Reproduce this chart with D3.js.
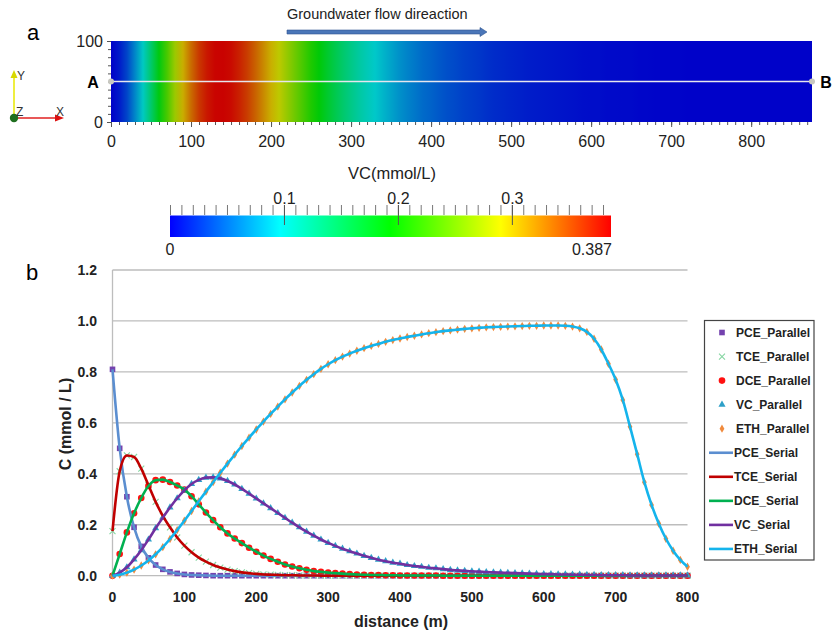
<!DOCTYPE html>
<html>
<head>
<meta charset="utf-8">
<script src="https://cdn.jsdelivr.net/npm/d3@7"></script>
<style>
body { margin: 0; background: #fff; }
svg { display: block; font-family: "Liberation Sans", Arial, sans-serif; }
</style>
</head>
<body>
<div id="chart"></div>
<script>

// distance along A-B (m)
var distance = [0,10,20,30,40,50,60,70,80,90,100,110,120,130,140,150,160,170,180,190,
    200,210,220,230,240,250,260,270,280,290,300,310,320,330,340,350,360,370,380,390,
    400,410,420,430,440,450,460,470,480,490,500,510,520,530,540,550,560,570,580,590,
    600,610,620,630,640,650,660,670,680,690,700,710,720,730,740,750,760,770,780,790,800];

var pce = [0.81,0.50,0.31,0.19,0.115,0.07,0.042,0.025,0.015,0.009,0.005,0.003,0.002,0.001,0,0,0,0,0,0,
    0,0,0,0,0,0,0,0,0,0,0,0,0,0,0,0,0,0,0,0,
    0,0,0,0,0,0,0,0,0,0,0,0,0,0,0,0,0,0,0,0,
    0,0,0,0,0,0,0,0,0,0,0,0,0,0,0,0,0,0,0,0,0];

var tce = [0.175,0.41,0.472,0.466,0.42,0.355,0.29,0.235,0.19,0.15,0.118,0.092,0.071,0.055,0.042,0.032,0.024,0.018,0.013,0.01,
    0.007,0.005,0.004,0.003,0.002,0.002,0.001,0.001,0.001,0,0,0,0,0,0,0,0,0,0,0,
    0,0,0,0,0,0,0,0,0,0,0,0,0,0,0,0,0,0,0,0,
    0,0,0,0,0,0,0,0,0,0,0,0,0,0,0,0,0,0,0,0,0];

var dce = [0,0.085,0.17,0.245,0.305,0.352,0.375,0.377,0.368,0.354,0.338,0.312,0.28,0.248,0.218,0.19,0.166,0.146,0.128,0.11,
    0.094,0.079,0.066,0.055,0.044,0.036,0.029,0.023,0.018,0.015,0.012,0.01,0.008,0.006,0.005,0.004,0.003,0.003,0.002,0.002,
    0.001,0.001,0.001,0.001,0.001,0.001,0,0,0,0,0,0,0,0,0,0,0,0,0,0,
    0,0,0,0,0,0,0,0,0,0,0,0,0,0,0,0,0,0,0,0,0];

var vc = [0,0.012,0.033,0.064,0.1,0.142,0.186,0.228,0.268,0.304,0.335,0.36,0.376,0.385,0.386,0.382,0.372,0.358,0.341,0.322,
    0.303,0.284,0.265,0.246,0.227,0.208,0.19,0.173,0.157,0.142,0.129,0.117,0.106,0.096,0.087,0.078,0.07,0.063,0.057,0.051,
    0.047,0.042,0.038,0.035,0.031,0.029,0.026,0.023,0.021,0.019,0.017,0.016,0.014,0.013,0.012,0.011,0.01,0.009,0.008,0.007,
    0.006,0.006,0.005,0.005,0.004,0.004,0.003,0.003,0.002,0.002,0.002,0.002,0.001,0.001,0.001,0.001,0.001,0.001,0.001,0.001,0.001];

var eth = [0,0.004,0.012,0.024,0.04,0.06,0.084,0.112,0.144,0.179,0.216,0.254,0.292,0.33,0.367,0.404,0.44,0.475,0.509,0.542,
    0.574,0.605,0.635,0.664,0.692,0.719,0.745,0.769,0.791,0.812,0.83,0.846,0.86,0.872,0.883,0.893,0.902,0.91,0.918,0.925,
    0.931,0.937,0.942,0.947,0.952,0.956,0.96,0.963,0.966,0.969,0.971,0.973,0.975,0.976,0.977,0.978,0.979,0.98,0.981,0.981,
    0.982,0.982,0.982,0.981,0.978,0.971,0.957,0.93,0.888,0.832,0.77,0.69,0.585,0.477,0.367,0.278,0.205,0.145,0.098,0.062,0.035];

var yTicks = [0, 0.2, 0.4, 0.6, 0.8, 1.0, 1.2];
var xTicks = [0, 100, 200, 300, 400, 500, 600, 700, 800];
var fieldTicks = [0, 100, 200, 300, 400, 500, 600, 700, 800];
var barTicks = [0.1, 0.2, 0.3];
var vcMax = 0.387;

var series = [
    { name: "PCE", values: pce, line: "#5B8ED0", marker: "square", mcol: "#7442AE" },
    { name: "TCE", values: tce, line: "#C00000", marker: "cross", mcol: "#86D6A2" },
    { name: "DCE", values: dce, line: "#00B050", marker: "circle", mcol: "#FF1010" },
    { name: "VC", values: vc, line: "#7030A0", marker: "triangle", mcol: "#2EA0C8" },
    { name: "ETH", values: eth, line: "#14B4EC", marker: "diamond", mcol: "#F08A3C" }
];

var svg = d3.select("#chart")
    .append("svg")
    .attr("width", 832)
    .attr("height", 635);

var defs = svg.append("defs");

// ---------- panel a ----------
var jet = d3.scaleLinear()
    .domain([0, vcMax * 0.25, vcMax * 0.5, vcMax * 0.75, vcMax])
    .range(["#0000ff", "#00ffff", "#00ff00", "#ffff00", "#ff0000"]);

function shade(v) {
    var c = d3.rgb(jet(v));
    return d3.rgb(c.r * 0.79, c.g * 0.79, c.b * 0.79).toString();
}

var xa = d3.scaleLinear().domain([0, 876]).range([111, 812]);
var ya = d3.scaleLinear().domain([0, 100]).range([122, 41]);

var field = defs.append("linearGradient")
    .attr("id", "field")
    .attr("gradientUnits", "userSpaceOnUse")
    .attr("x1", xa(0)).attr("x2", xa(876))
    .attr("y1", 0).attr("y2", 0);
field.selectAll("stop")
    .data(distance)
    .enter()
    .append("stop")
    .attr("offset", function (d) { return (xa(d) - xa(0)) / (xa(876) - xa(0)); })
    .attr("stop-color", function (d, i) { return shade(vc[i]); });

svg.append("rect")
    .attr("x", xa(0)).attr("y", ya(100))
    .attr("width", xa(876) - xa(0))
    .attr("height", ya(0) - ya(100))
    .attr("fill", "url(#field)");

// axes of the field
var axA = svg.append("g").attr("transform", "translate(0," + ya(0) + ")")
    .call(d3.axisBottom(xa).tickValues(fieldTicks).tickSize(5).tickPadding(9));
svg.append("g").attr("transform", "translate(0," + ya(0) + ")")
    .call(d3.axisBottom(xa).tickValues(d3.range(0, 871, 10)).tickSize(3).tickFormat(""));
var ayA = svg.append("g").attr("transform", "translate(" + xa(0) + ",0)")
    .call(d3.axisLeft(ya).tickValues([0, 100]).tickSize(4).tickPadding(4));
svg.append("g").attr("transform", "translate(" + xa(0) + ",0)")
    .call(d3.axisLeft(ya).tickValues(d3.range(0, 101, 10)).tickSize(3).tickFormat(""));

svg.selectAll(".domain").remove();
svg.selectAll(".tick line").attr("stroke", "#555");
axA.selectAll("text").attr("font-size", 16).attr("fill", "#222");
ayA.selectAll("text").attr("font-size", 16).attr("fill", "#222");

// A-B line
svg.append("line")
    .attr("x1", xa(0)).attr("x2", xa(876))
    .attr("y1", ya(50)).attr("y2", ya(50))
    .attr("stroke", "#e6e6ee").attr("stroke-width", 1.5);
svg.selectAll(".abdot")
    .data([0, 876])
    .enter()
    .append("circle")
    .attr("cx", function (d) { return xa(d); })
    .attr("cy", ya(50))
    .attr("r", 3)
    .attr("fill", "#c8c8c0");
svg.append("text").attr("x", 93).attr("y", ya(50) + 6).attr("text-anchor", "middle")
    .attr("font-size", 16).attr("font-weight", "bold").text("A");
svg.append("text").attr("x", 826).attr("y", ya(50) + 6).attr("text-anchor", "middle")
    .attr("font-size", 16).attr("font-weight", "bold").text("B");

// panel labels
svg.append("text").attr("x", 33).attr("y", 40).attr("text-anchor", "middle")
    .attr("font-size", 22).text("a");
svg.append("text").attr("x", 32).attr("y", 280).attr("text-anchor", "middle")
    .attr("font-size", 22).text("b");

// flow direction arrow
svg.append("text").attr("x", 287).attr("y", 19)
    .attr("font-size", 14.5).attr("fill", "#222").text("Groundwater flow direaction");
svg.append("path")
    .attr("d", "M287,30 L480,30 L480,27.5 L487,32 L480,36.5 L480,34 L287,34 Z")
    .attr("fill", "#4A76B8").attr("stroke", "#2F5590").attr("stroke-width", 0.6);

// axis triad
var triad = svg.append("g");
triad.append("line").attr("x1", 14).attr("y1", 118).attr("x2", 14).attr("y2", 76)
    .attr("stroke", "#e8e800").attr("stroke-width", 1.5);
triad.append("path").attr("d", "M14,70 L10.5,78 L17.5,78 Z").attr("fill", "#d8d800");
triad.append("line").attr("x1", 14).attr("y1", 118).attr("x2", 56).attr("y2", 118)
    .attr("stroke", "#e02020").attr("stroke-width", 1.5);
triad.append("path").attr("d", "M64,118 L55,114.5 L55,121.5 Z").attr("fill", "#dd1010");
triad.append("circle").attr("cx", 14).attr("cy", 118).attr("r", 4.2).attr("fill", "#1f6f1f");
triad.append("text").attr("x", 17).attr("y", 80).attr("font-size", 12).attr("fill", "#333").text("Y");
triad.append("text").attr("x", 16).attr("y", 116).attr("font-size", 12).attr("fill", "#333").text("Z");
triad.append("text").attr("x", 56).attr("y", 116).attr("font-size", 12).attr("fill", "#333").text("X");

// ---------- colour bar ----------
var xc = d3.scaleLinear().domain([0, vcMax]).range([170, 611]);
var cbar = defs.append("linearGradient").attr("id", "cbar");
cbar.selectAll("stop")
    .data(jet.domain())
    .enter()
    .append("stop")
    .attr("offset", function (d) { return d / vcMax; })
    .attr("stop-color", function (d) { return jet(d); });

svg.append("rect")
    .attr("x", xc(0)).attr("y", 215.5)
    .attr("width", xc(vcMax) - xc(0)).attr("height", 21.5)
    .attr("fill", "url(#cbar)");

var cMinor = svg.append("g").attr("transform", "translate(0,215)")
    .call(d3.axisTop(xc).tickValues(d3.range(0, 0.385, 0.01)).tickSize(10).tickFormat(""));
var cMajor = svg.append("g").attr("transform", "translate(0,225)")
    .call(d3.axisTop(xc).tickValues(barTicks).tickSize(20).tickPadding(4).tickFormat(d3.format(".1f")));
cMinor.select(".domain").remove();
cMajor.select(".domain").remove();
cMinor.selectAll(".tick line").attr("stroke", "#777");
cMajor.selectAll(".tick line").attr("stroke", "#555");
cMajor.selectAll("text").attr("font-size", 16).attr("fill", "#222").attr("y", -21);

svg.append("text").attr("x", 392).attr("y", 179).attr("text-anchor", "middle")
    .attr("font-size", 16.5).attr("fill", "#222").text("VC(mmol/L)");
svg.append("text").attr("x", xc(0)).attr("y", 255).attr("text-anchor", "middle")
    .attr("font-size", 16).attr("fill", "#222").text("0");
svg.append("text").attr("x", xc(vcMax) + 1).attr("y", 255).attr("text-anchor", "end")
    .attr("font-size", 16).attr("fill", "#222").text(vcMax);

// ---------- panel b ----------
var xb = d3.scaleLinear().domain([0, 800]).range([112.5, 687.5]);
var yb = d3.scaleLinear().domain([0, 1.2]).range([575.7, 270]);

svg.append("g").selectAll("line")
    .data(yTicks)
    .enter()
    .append("line")
    .attr("x1", xb(0)).attr("x2", xb(800))
    .attr("y1", function (d) { return yb(d); })
    .attr("y2", function (d) { return yb(d); })
    .attr("stroke", "#bdbdbd").attr("stroke-width", 1.3);
svg.append("line")
    .attr("x1", xb(0)).attr("x2", xb(0))
    .attr("y1", yb(1.2)).attr("y2", yb(0))
    .attr("stroke", "#bdbdbd").attr("stroke-width", 1.3);

svg.append("g").selectAll("text")
    .data(yTicks)
    .enter()
    .append("text")
    .attr("x", 97)
    .attr("y", function (d) { return yb(d); })
    .attr("dy", "0.36em")
    .attr("text-anchor", "end")
    .attr("font-size", 14).attr("font-weight", "bold").attr("fill", "#222")
    .text(d3.format(".1f"));

svg.append("g").selectAll("text")
    .data(xTicks)
    .enter()
    .append("text")
    .attr("x", function (d) { return xb(d); })
    .attr("y", 602)
    .attr("text-anchor", "middle")
    .attr("font-size", 14).attr("font-weight", "bold").attr("fill", "#222")
    .text(function (d) { return d; });

svg.append("text").attr("x", 401).attr("y", 627).attr("text-anchor", "middle")
    .attr("font-size", 16).attr("font-weight", "bold").attr("fill", "#222").text("distance (m)");
svg.append("text")
    .attr("transform", "translate(71,424) rotate(-90)")
    .attr("text-anchor", "middle")
    .attr("font-size", 16).attr("font-weight", "bold").attr("fill", "#222").text("C (mmol / L)");

function drawMarker(g, type, col) {
    if (type === "square") {
        g.append("rect").attr("x", -2.8).attr("y", -2.8).attr("width", 5.6).attr("height", 5.6).attr("fill", col);
    } else if (type === "cross") {
        g.append("path").attr("d", "M-3,-3L3,3M-3,3L3,-3")
            .attr("stroke", col).attr("stroke-width", 1.1).attr("fill", "none");
    } else if (type === "circle") {
        g.append("circle").attr("r", 3.3).attr("fill", col);
    } else if (type === "triangle") {
        g.append("path").attr("d", d3.symbol(d3.symbolTriangle, 22)()).attr("fill", col);
    } else {
        g.append("path").attr("d", d3.symbol(d3.symbolDiamond, 20)()).attr("fill", col);
    }
}

// Parallel results as markers
series.forEach(function (s) {
    svg.append("g").selectAll("g")
        .data(s.values)
        .enter()
        .append("g")
        .attr("transform", function (d, i) { return "translate(" + xb(distance[i]) + "," + yb(d) + ")"; })
        .each(function () { drawMarker(d3.select(this), s.marker, s.mcol); });
});

// Serial results as lines
var line = d3.line()
    .x(function (d, i) { return xb(distance[i]); })
    .y(function (d) { return yb(d); })
    .curve(d3.curveMonotoneX);

series.forEach(function (s) {
    svg.append("path")
        .datum(s.values)
        .attr("d", line)
        .attr("fill", "none")
        .attr("stroke", s.line)
        .attr("stroke-width", 2.6);
});

// legend
var legend = svg.append("g");
legend.append("rect")
    .attr("x", 704.5).attr("y", 320.5)
    .attr("width", 109.5).attr("height", 239.5)
    .attr("fill", "#fff").attr("stroke", "#444").attr("stroke-width", 1.2);

var legItems = series.map(function (s) { return { label: s.name + "_Parallel", s: s, kind: "m" }; })
    .concat(series.map(function (s) { return { label: s.name + "_Serial", s: s, kind: "l" }; }));

var li = legend.selectAll(".li")
    .data(legItems)
    .enter()
    .append("g")
    .attr("transform", function (d, i) { return "translate(0," + (332.5 + i * 24.05) + ")"; });

li.each(function (d) {
    var g = d3.select(this);
    if (d.kind === "m") {
        drawMarker(g.append("g").attr("transform", "translate(722,0)"), d.s.marker, d.s.mcol);
    } else {
        g.append("line").attr("x1", 709).attr("x2", 733).attr("y1", 0).attr("y2", 0)
            .attr("stroke", d.s.line).attr("stroke-width", 2.6);
    }
});
li.append("text")
    .attr("x", function (d) { return d.kind === "m" ? 736 : 734; })
    .attr("dy", "0.36em")
    .attr("font-size", 12).attr("font-weight", "bold").attr("fill", "#222")
    .text(function (d) { return d.label; });

</script>
</body>
</html>
